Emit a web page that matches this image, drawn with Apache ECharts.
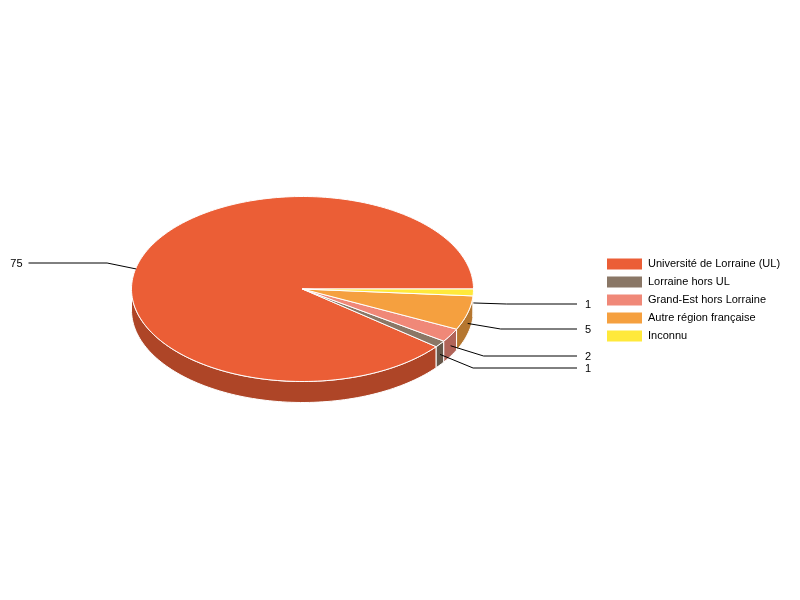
<!DOCTYPE html>
<html>
<head>
<meta charset="utf-8">
<style>html,body{margin:0;padding:0;background:#fff}#c{width:800px;height:600px}</style>
<script src="https://cdn.jsdelivr.net/npm/echarts@6/dist/echarts.min.js"></script>
</head>
<body>
<div id="c"></div>
<script>
const categories = ['Université de Lorraine (UL)', 'Lorraine hors UL', 'Grand-Est hors Lorraine', 'Autre région française', 'Inconnu'];
const values = [75, 1, 2, 5, 1];
const topColors = ['#EB5E36', '#8A7766', '#F08878', '#F5A03F', '#FFE93B'];
const wallColors = ['#AE4527', '#66584B', '#B16459', '#B5762F', '#BDAC2C'];

const cx = 302.5, cy = 289, rx = 171, ry = 92.5, depth = 21;
const total = values.reduce((a, b) => a + b, 0);
const font = '11px "Liberation Sans", Arial, sans-serif';

function range(i) {
  let before = 0;
  for (let k = 0; k < i; k++) before += values[k];
  return [before / total * 360, (before + values[i]) / total * 360];
}
function pt(deg, dy) {
  const a = deg * Math.PI / 180;
  return [cx + rx * Math.cos(a), cy - ry * Math.sin(a) + (dy || 0)];
}
function arc(a0, a1, dy) {
  const n = Math.max(2, Math.ceil(Math.abs(a1 - a0) / 1.5));
  const out = [];
  for (let k = 0; k <= n; k++) out.push(pt(a0 + (a1 - a0) * k / n, dy));
  return out;
}
function rawLabelY(i) {
  const r = range(i);
  const mid = (r[0] + r[1]) / 2;
  const s = Math.sin(mid * Math.PI / 180);
  return Math.round(pt(mid, depth / 2)[1] - (s > 0 ? 18 : 21) * s);
}
// Labels on one side are kept at least 12px apart, pushed downwards in order of height.
function labelYs() {
  const order = values.map((v, i) => i).sort((p, q) => rawLabelY(p) - rawLabelY(q));
  const ys = [];
  let last = -Infinity;
  order.forEach(i => {
    const y = Math.max(rawLabelY(i), last + 12);
    ys[i] = y;
    last = y;
  });
  return ys;
}
function renderTop(i) {
  return function () {
    const [a0, a1] = range(i);
    const mid = (a0 + a1) / 2;
    const c = Math.cos(mid * Math.PI / 180);
    const side = c >= 0 ? 1 : -1;
    const anchor = pt(mid, depth / 2);
    if (side < 0) anchor[0] -= 5;
    const ey = labelYs()[i];
    const elbow = [anchor[0] + (side > 0 ? 33 : -29), ey];
    const end = [cx + (side > 0 ? 274.5 : -274), ey];
    return {
      type: 'group',
      children: [
        {
          type: 'polygon',
          z2: 5,
          shape: { points: [[cx, cy]].concat(arc(a0, a1, 0)) },
          style: { fill: topColors[i], stroke: '#fff', lineWidth: 1, lineJoin: 'round' }
        },
        {
          type: 'polyline',
          z2: 10,
          shape: { points: [anchor, elbow, end] },
          style: { fill: null, stroke: '#000', lineWidth: 1 }
        },
        {
          type: 'text',
          z2: 10,
          style: {
            x: end[0] + side * (side > 0 ? 8 : 6),
            y: ey + 0.6,
            text: String(values[i]),
            font: font,
            fill: '#000',
            align: side > 0 ? 'left' : 'right',
            verticalAlign: 'middle'
          }
        }
      ]
    };
  };
}
function renderWall(i) {
  return function () {
    // Only the part of the slice facing the viewer (180..360 degrees) shows a wall.
    const r = range(i);
    const lo = Math.max(r[0], 180), hi = Math.min(r[1], 360);
    if (hi <= lo) return { type: 'group', children: [] };
    const pts = arc(lo, hi, 0).concat(arc(hi, lo, depth));
    return {
      type: 'polygon',
      shape: { points: pts },
      style: { fill: wallColors[i], stroke: '#fff', lineWidth: 1, lineJoin: 'round' }
    };
  };
}

const series = [];
categories.forEach((name, i) => {
  series.push({
    type: 'custom', coordinateSystem: 'none', name: '__wall' + i, z: 1, silent: true,
    data: [values[i]], renderItem: renderWall(i)
  });
});
categories.forEach((name, i) => {
  series.push({
    type: 'custom', coordinateSystem: 'none', name: name, z: 2, silent: true,
    itemStyle: { color: topColors[i] },
    data: [values[i]], renderItem: renderTop(i)
  });
});

const chart = echarts.init(document.getElementById('c'), null, { renderer: 'canvas' });
chart.setOption({
  animation: false,
  backgroundColor: '#fff',
  legend: {
    data: categories,
    orient: 'vertical',
    left: 602,
    top: 253.6,
    icon: 'rect',
    itemWidth: 35,
    itemHeight: 11,
    itemGap: 7,
    selectedMode: false,
    textStyle: { fontFamily: '"Liberation Sans", Arial, sans-serif', fontSize: 11, color: '#000', padding: [0, 0, 0, 1] }
  },
  series: series
});
</script>
</body>
</html>
